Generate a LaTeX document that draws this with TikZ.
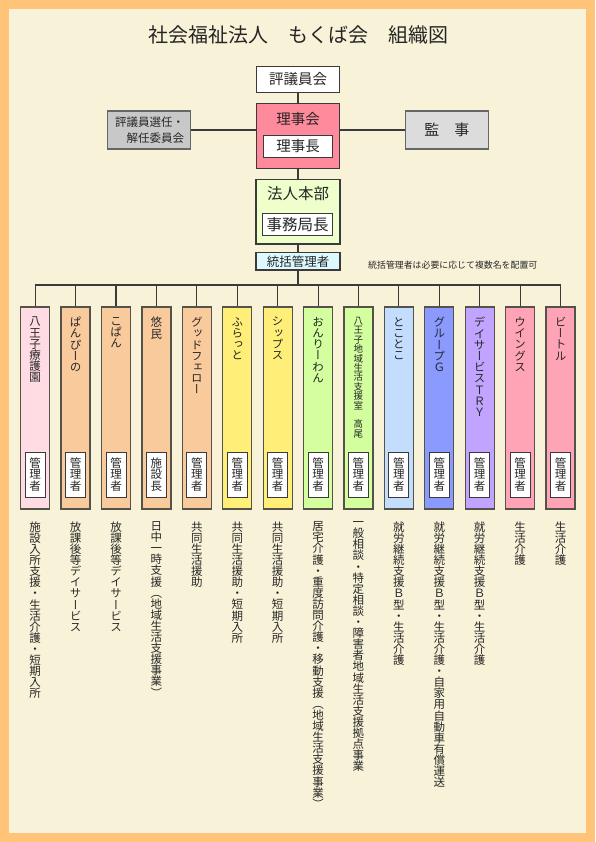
\documentclass[tikz,border=0pt]{standalone}
\usepackage{fontspec}
\newfontfamily\jph{Noto Sans CJK JP}
\newfontfamily\jpv{Noto Sans CJK JP}[RawFeature=+vert]
\definecolor{bgorange}{HTML}{FFC477}
\definecolor{cream}{HTML}{F8F3D8}
\definecolor{rijikai}{HTML}{FF8A9B}
\definecolor{honbuc}{HTML}{EEFFCC}
\definecolor{tokatsuc}{HTML}{DDF9FF}
\definecolor{grayL}{HTML}{C8C8C8}
\definecolor{grayR}{HTML}{DCDCDC}
\definecolor{pinkA}{HTML}{FFDCE4}
\definecolor{peach}{HTML}{F9CA9C}
\definecolor{yellowC}{HTML}{FFEF78}
\definecolor{greenC}{HTML}{D3FF9F}
\definecolor{lblueC}{HTML}{C3DDFF}
\definecolor{blueC}{HTML}{8A9AFF}
\definecolor{purpleC}{HTML}{C1A4FF}
\definecolor{pinkB}{HTML}{FFA4B6}
\definecolor{lineC}{HTML}{3A3A3A}
\definecolor{colline}{HTML}{55524A}
\newcommand\vtxtend{}
\newcommand\vtxt[1]{\vbox{\lineskiplimit=-50pt\relax\vtxtaux#1\vtxtend}}
\def\vtxtaux#1{\ifx#1\vtxtend\else\hbox to 1em{\hss#1\hss}\expandafter\vtxtaux\fi}
\tikzset{
  mainbox/.style={draw=lineC, line width=1.3pt, inner sep=0pt},
  graybox/.style={draw=black!60, line width=1.2pt, inner sep=0pt},
  innerbox/.style={draw=lineC, line width=1pt, fill=white, inner sep=0pt},
  colbox/.style={draw=colline, line width=1.3pt, minimum width=29pt, minimum height=202pt, inner sep=0pt},
  mgrbox/.style={draw=lineC, line width=1pt, fill=white, minimum width=20pt, minimum height=45pt, inner sep=0pt},
  lbl/.style={inner sep=0pt, text=black!85},
  conn/.style={draw=lineC, line width=1.1pt},
  vtitle/.style={inner sep=0pt, anchor=north, text=black!85, font=\jpv\fontsize{11.5pt}{11.2pt}\selectfont},
  vdesc/.style={inner sep=0pt, anchor=north, text=black!85, font=\jpv\fontsize{11.5pt}{11.1pt}\selectfont},
}
\newcommand\mkcol[5]{%
  \node[colbox, fill=#2] (col#1) at ({35.2+40.41*(#1-1)},408) {};
  \node[vtitle] (tt#1) at ({35.2+40.41*(#1-1)},317) {\vtxt{#3}};
  \node[mgrbox] (mg#1) at ({35.2+40.41*(#1-1)},474.5) {};
  \node[lbl, font=\jpv\fontsize{11.5pt}{11.8pt}\selectfont] (mgt#1) at (mg#1) {\vtxt{#4}};
  \node[vdesc] (ds#1) at ({35.2+40.41*(#1-1)},521.5) {\vtxt{#5}};
}
\begin{document}
\begin{tikzpicture}[x=1pt,y=-1pt]
\useasboundingbox (0,0) rectangle (595,842);
\fill[bgorange] (0,0) rectangle (595,842);
\fill[cream] (9,9) rectangle (586,833);
% title
\node[lbl, font=\jph\fontsize{20pt}{24pt}\selectfont] (title) at (298,35) {社会福祉法人　もくば会　組織図};
% top boxes
\node[mainbox, fill=white, minimum width=82.6pt, minimum height=25.6pt] (hyogi) at (298,79.5) {};
\node[lbl, font=\jph\fontsize{14.5pt}{17pt}\selectfont] (hyogit) at (hyogi) {評議員会};
\node[mainbox, fill=rijikai, minimum width=82.6pt, minimum height=65pt] (riji) at (298,135.8) {};
\node[lbl, font=\jph\fontsize{14.5pt}{17pt}\selectfont] (rijit) at (298,119.5) {理事会};
\node[innerbox, minimum width=69.4pt, minimum height=22.3pt] (rijicho) at (298,146.2) {};
\node[lbl, font=\jph\fontsize{14.5pt}{17pt}\selectfont] (rijichot) at (rijicho) {理事長};
\node[graybox, fill=grayL, minimum width=83.4pt, minimum height=38pt] (senin) at (149,130) {};
\node[lbl, align=left, font=\jph\fontsize{11.5pt}{16pt}\selectfont] (senint) at (149.5,130) {評議員選任・\\\hspace*{1em}解任委員会};
\node[graybox, fill=grayR, minimum width=83pt, minimum height=38pt] (kanji) at (446.8,130) {};
\node[lbl, font=\jph\fontsize{15pt}{17pt}\selectfont] (kanjit) at (kanji) {監　事};
\node[mainbox, fill=honbuc, minimum width=84pt, minimum height=64.7pt] (honbu) at (298,211.6) {};
\node[lbl, font=\jph\fontsize{15.5pt}{18pt}\selectfont] (honbut) at (298,193.5) {法人本部};
\node[innerbox, minimum width=70pt, minimum height=22.4pt] (jimu) at (297.7,224.5) {};
\node[lbl, font=\jph\fontsize{15.5pt}{18pt}\selectfont] (jimut) at (jimu) {事務局長};
\node[mainbox, fill=tokatsuc, minimum width=84pt, minimum height=17.3pt] (tokatsu) at (298,261.4) {};
\node[lbl, font=\jph\fontsize{12.5pt}{15pt}\selectfont] (tokatsut) at (tokatsu) {統括管理者};
\node[lbl, anchor=west, font=\jph\fontsize{8.9pt}{11pt}\selectfont] (note) at (368,265) {統括管理者は必要に応じて複数名を配置可};
% columns
\mkcol{1}{pinkA}{八王子療護園}{管理者}{施設入所支援・生活介護・短期入所}
\mkcol{2}{peach}{ぱんぴーの}{管理者}{放課後等デイサービス}
\mkcol{3}{peach}{こぱん}{管理者}{放課後等デイサービス}
\mkcol{4}{peach}{悠民}{施設長}{日中一時支援（地域生活支援事業）}
\mkcol{5}{peach}{グッドフェロー}{管理者}{共同生活援助}
\mkcol{6}{yellowC}{ふらっと}{管理者}{共同生活援助・短期入所}
\mkcol{7}{yellowC}{シップス}{管理者}{共同生活援助・短期入所}
\mkcol{8}{greenC}{おんりーわん}{管理者}{居宅介護・重度訪問介護・移動支援（地域生活支援事業）}
\mkcol{9}{greenC}{}{管理者}{一般相談・特定相談・障害者地域生活支援拠点事業}
\node[vtitle, font=\jpv\fontsize{9.5pt}{9.4pt}\selectfont] (tt9b) at ({35.2+40.41*8},317) {\vtxt{八王子地域生活支援室　高尾}};
\mkcol{10}{lblueC}{とことこ}{管理者}{就労継続支援Ｂ型・生活介護}
\mkcol{11}{blueC}{グループＧ}{管理者}{就労継続支援Ｂ型・生活介護・自家用自動車有償運送}
\mkcol{12}{purpleC}{デイサービスＴＲＹ}{管理者}{就労継続支援Ｂ型・生活介護}
\mkcol{13}{pinkB}{ウイングス}{管理者}{生活介護}
\mkcol{14}{pinkB}{ビートル}{管理者}{生活介護}
% connectors
\draw[conn] (hyogi.south) -- (riji.north);
\draw[conn] (senin.east) -- (senin.east -| riji.west);
\draw[conn] (kanji.west) -- (kanji.west -| riji.east);
\draw[conn] (riji.south) -- (honbu.north);
\draw[conn] (honbu.south) -- (tokatsu.north);
\coordinate (bus) at (298,285);
\draw[conn] (tokatsu.south) -- (bus);
\draw[conn] (col1.north |- bus) -- (col14.north |- bus);
\foreach \i in {1,...,14} {\draw[conn] (col\i.north |- bus) -- (col\i.north);}
\end{tikzpicture}
\end{document}
